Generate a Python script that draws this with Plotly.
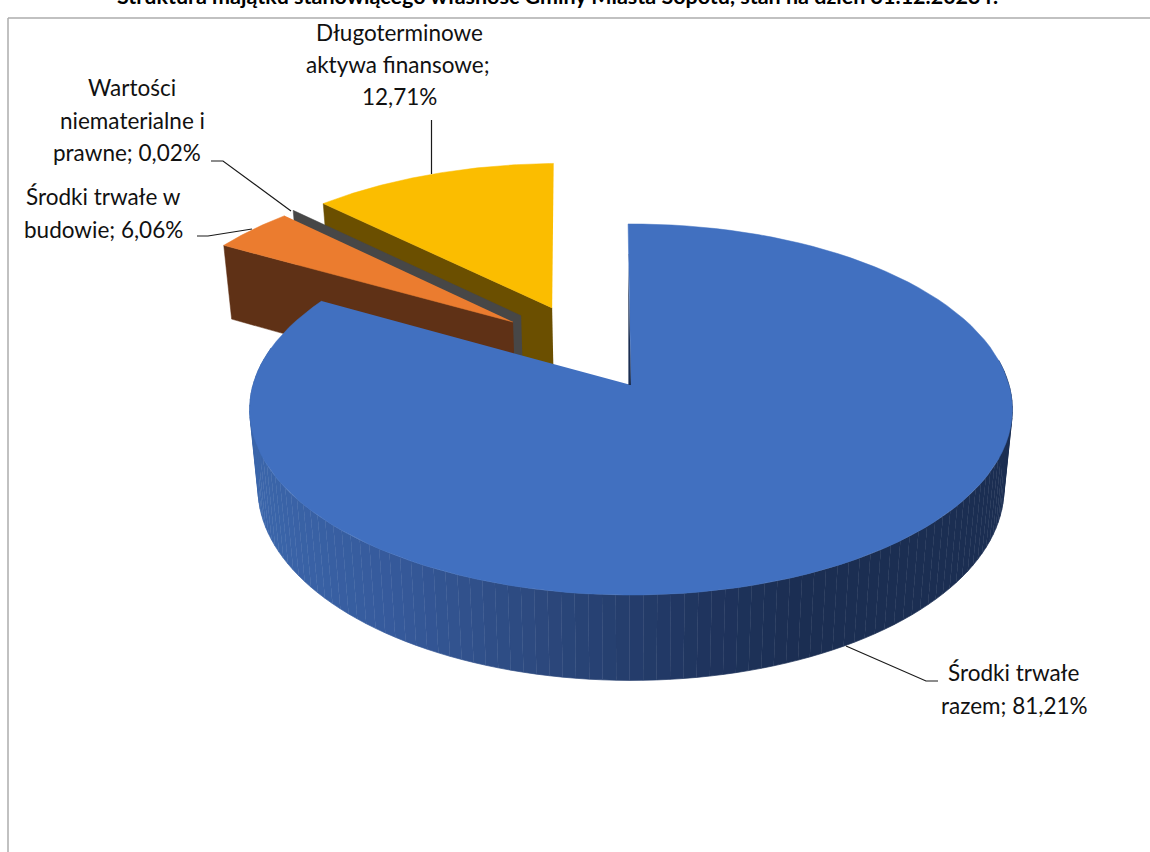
import numpy as np
import plotly.graph_objects as go

# ---- data ----
categories = ["Środki trwałe razem", "Środki trwałe w budowie",
              "Wartości niematerialne i prawne", "Długoterminowe aktywa finansowe"]
values = [81.21, 6.06, 0.02, 12.71]
title_text = "Struktura majątku stanowiącego własność Gminy Miasta Sopotu, stan na dzień 31.12.2023 r."

top_colors = ["#4170c0", "#eb7c2f", "#a5a5a5", "#fbbd00"]
wall_colors = ["#1b2e52", "#5f3116", "#474747", "#6b4f00"]

# explosion of each slice, in pie-disc units (u to the right, v toward the viewer)
explode_u = [0.0, -0.327, -0.306, -0.221]
explode_v = [0.0, -0.362, -0.400, -0.448]
# the reference's perspective moves the drawn edges a little from the true angles
edge_adjust_start = [-0.5, 7.0, 0.0, 0.0]
edge_adjust_end = [7.0, 0.0, 0.0, -1.3]

# ---- 3D pie projection onto page pixels ----
CX, CY = 631.0, 385.0
A, B = 378.0, 182.3
K, M, H = 0.132, 0.022, 80.6


def project(u, v, bottom=False):
    u, v = np.asarray(u, float), np.asarray(v, float)
    s = 1.0 / (1.0 - K * v + (M if bottom else 0.0))
    return CX + A * u * s, CY + (B * v + (H if bottom else 0.0)) * s


def rim(i, a0, a1, n=120):
    t = np.radians(np.linspace(a0, a1, n))
    return explode_u[i] + np.sin(t), explode_v[i] - np.cos(t)


def poly(x, y, color, line=0.0):
    return go.Scatter(x=list(x), y=list(y), mode="lines", fill="toself", fillcolor=color,
                      line=dict(color=color, width=line), hoverinfo="skip", showlegend=False)


edges = np.concatenate([[0.0], np.cumsum(values)]) * 3.6
starts = edges[:-1] + np.array(edge_adjust_start)
ends = edges[1:] + np.array(edge_adjust_end)

fig = go.Figure()


def cut_wall(i, angle):
    """Flat radial cut of an exploded slice: apex to rim, extruded downward."""
    u0, v0 = explode_u[i], explode_v[i]
    t = np.radians(angle)
    u1, v1 = u0 + np.sin(t), v0 - np.cos(t)
    xt, yt = project([u0, u1], [v0, v1])
    xb, yb = project([u1, u0], [v1, v0], bottom=True)
    return poly(np.r_[xt, xb], np.r_[yt, yb], wall_colors[i], 0.5)


def top_face(i):
    u, v = rim(i, starts[i], ends[i])
    x, y = project(np.r_[explode_u[i], u], np.r_[explode_v[i], v])
    return poly(x, y, top_colors[i], 0.5)


# slice 4 (yellow), then 3 (grey), then 2 (orange), back to front
fig.add_trace(cut_wall(3, starts[3]))
fig.add_trace(top_face(3))
fig.add_trace(cut_wall(2, starts[2]))

# orange: cut wall plus the small stretch of outer wall
fig.add_trace(cut_wall(1, starts[1]))
fig.add_trace(top_face(1))

# blue outer wall with a left-to-right shading
shade_x = [255, 400, 530, 700, 800, 1015]
shade_r = [60, 54, 45, 32, 27, 27]
shade_g = [103, 90, 74, 53, 46, 46]
shade_b = [172, 155, 128, 95, 82, 82]
wall_angles = np.linspace(82, 282, 111)
for a0, a1 in zip(wall_angles[:-1], wall_angles[1:]):
    u, v = rim(0, a0, a1, n=3)
    xt, yt = project(u, v)
    xb, yb = project(u[::-1], v[::-1], bottom=True)
    mid = xb[1]
    col = "rgb(%d,%d,%d)" % (np.interp(mid, shade_x, shade_r),
                             np.interp(mid, shade_x, shade_g),
                             np.interp(mid, shade_x, shade_b))
    fig.add_trace(poly(np.r_[xt, xb], np.r_[yt, yb], col, 0.7))

fig.add_trace(top_face(0))

# thin dark sliver of the blue slice's first cut
t0 = np.radians(starts[0])
rx, ry = project([np.sin(t0)], [-np.cos(t0)])
ax, ay = project([0.0], [0.0])
fig.add_trace(poly([rx[0], ax[0], ax[0] - 2.6, rx[0] + 0.2], [ry[0] + 30, ay[0], ay[0], ry[0] + 30],
                   wall_colors[0], 0))

# ---- leader lines ----
leaders = [
    ([846, 926, 938], [646, 681, 681]),
    ([431.5, 431.5], [174, 120]),
    ([291, 223, 211], [211, 161, 161]),
    ([252, 208, 197], [229, 236, 236]),
]
for lx, ly in leaders:
    fig.add_trace(go.Scatter(x=lx, y=ly, mode="lines", line=dict(color="#1a1a1a", width=1.2),
                             hoverinfo="skip", showlegend=False))

# ---- data labels, line by line ----
label_lines = [
    ("Długoterminowe", 399, 32), ("aktywa finansowe;", 398, 64), ("12,71%", 399, 96),
    ("Wartości", 132, 87), ("niematerialne i", 132, 120), ("prawne; 0,02%", 127, 152),
    ("Środki trwałe w", 103, 196), ("budowie; 6,06%", 103, 229),
    ("Środki trwałe", 1014, 672), ("razem; 81,21%", 1014, 705),
]
annotations = [dict(text=t, x=x, y=y, xref="x", yref="y", showarrow=False,
                    xanchor="center", yanchor="middle",
                    font=dict(family="Lato", size=22.5, color="#111111"))
               for t, x, y in label_lines]
annotations.append(dict(text="<b>" + title_text + "</b>", x=557, y=0, xref="x", yref="y", showarrow=False,
                        xanchor="center", yanchor="middle", yshift=4,
                        font=dict(family="Lato", size=21.5, color="#000000")))

# chart frame: only its top and left edges are in view
frame = [dict(type="line", xref="x", yref="y", x0=8, x1=1150, y0=18, y1=18,
              line=dict(color="#adadad", width=1.5)),
         dict(type="line", xref="x", yref="y", x0=8, x1=8, y0=18, y1=852,
              line=dict(color="#adadad", width=1.5))]

fig.update_layout(width=1150, height=852, margin=dict(l=0, r=0, t=0, b=0),
                  paper_bgcolor="white", plot_bgcolor="white", showlegend=False,
                  annotations=annotations, shapes=frame,
                  xaxis=dict(range=[0, 1150], visible=False, fixedrange=True),
                  yaxis=dict(range=[852, 0], visible=False, fixedrange=True))

fig.write_html("out.html", config={"displayModeBar": False},
               post_script="document.body.style.margin='0';document.body.style.overflow='hidden';")
